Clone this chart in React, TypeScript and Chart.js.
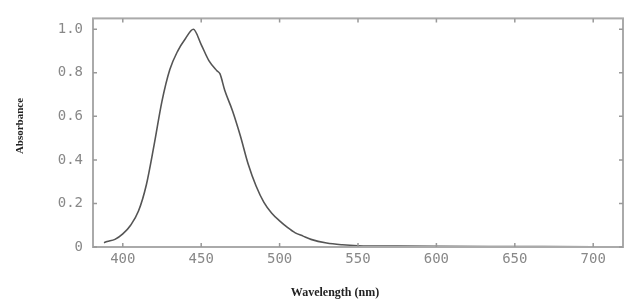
import React, { useEffect, useRef } from "react";
import { Chart, registerables } from "chart.js";

Chart.register(...registerables);

const wavelengths = [388, 390, 395, 400, 405, 410, 415, 420, 425, 430, 435, 440, 445, 450, 455, 460, 462, 465, 470, 475, 480, 485, 490, 495, 500, 505, 510, 515, 520, 530, 540, 550, 575, 600, 650, 700, 710];
const absorbance = [0.02, 0.025, 0.035, 0.06, 0.1, 0.165, 0.285, 0.47, 0.67, 0.815, 0.9, 0.958, 1.0, 0.93, 0.855, 0.81, 0.795, 0.72, 0.625, 0.51, 0.38, 0.28, 0.205, 0.155, 0.12, 0.09, 0.065, 0.05, 0.035, 0.018, 0.01, 0.006, 0.004, 0.003, 0.002, 0.001, 0.001];
const xTicks = [400, 450, 500, 550, 600, 650, 700];
const yTicks = [0, 0.2, 0.4, 0.6, 0.8, 1.0];
const xTitle = "Wavelength (nm)";
const yTitle = "Absorbance";

const framePlugin = {
  id: "frame",
  afterDraw(chart: any) {
    const { ctx, chartArea, scales } = chart;
    const { left, right, top, bottom } = chartArea;
    ctx.save();
    ctx.strokeStyle = "#aaaaaa";
    ctx.lineWidth = 2;
    ctx.strokeRect(left, top, right - left, bottom - top);
    ctx.lineWidth = 1.5;
    ctx.strokeStyle = "#999999";
    const tl = 4;
    xTicks.forEach((v) => {
      const x = scales.x.getPixelForValue(v);
      ctx.beginPath();
      ctx.moveTo(x, bottom);
      ctx.lineTo(x, bottom - tl);
      ctx.moveTo(x, top);
      ctx.lineTo(x, top + tl);
      ctx.stroke();
    });
    yTicks.forEach((v) => {
      const y = scales.y.getPixelForValue(v);
      ctx.beginPath();
      ctx.moveTo(left, y);
      ctx.lineTo(left + tl, y);
      ctx.moveTo(right, y);
      ctx.lineTo(right - tl, y);
      ctx.stroke();
    });
    ctx.fillStyle = "#222222";
    ctx.font = "bold 12px 'Liberation Serif'";
    ctx.textAlign = "center";
    ctx.textBaseline = "middle";
    ctx.fillText(xTitle, 335, 293);
    ctx.translate(20, 126);
    ctx.rotate(-Math.PI / 2);
    ctx.font = "bold 11px 'Liberation Serif'";
    ctx.fillText(yTitle, 0, 0);
    ctx.restore();
  },
};

export default function App() {
  const ref = useRef<HTMLCanvasElement>(null);
  useEffect(() => {
    document.body.style.margin = "0";
    const chart = new Chart(ref.current!, {
      type: "line",
      data: {
        datasets: [
          {
            data: wavelengths.map((w, i) => ({ x: w, y: absorbance[i] })),
            borderColor: "#555555",
            borderWidth: 1.6,
            pointRadius: 0,
            cubicInterpolationMode: "monotone",
            fill: false,
          },
        ],
      },
      options: {
        animation: false,
        responsive: true,
        maintainAspectRatio: false,
        layout: { padding: { top: 15, right: 4, left: 0, bottom: 0 } },
        plugins: { legend: { display: false }, tooltip: { enabled: false } },
        scales: {
          x: {
            type: "linear",
            min: 381,
            max: 719,
            afterBuildTicks: (s: any) => {
              s.ticks = xTicks.map((v) => ({ value: v }));
            },
            afterFit: (s: any) => {
              s.height = 53;
            },
            grid: { display: false, tickLength: 0 },
            border: { display: false },
            ticks: {
              color: "#888888",
              font: { family: "'DejaVu Sans Mono'", size: 14 },
              padding: 4,
              maxRotation: 0,
            },
          },
          y: {
            min: 0,
            max: 1.05,
            afterBuildTicks: (s: any) => {
              s.ticks = yTicks.map((v) => ({ value: v }));
            },
            afterFit: (s: any) => {
              s.width = 93;
            },
            grid: { display: false, tickLength: 0 },
            border: { display: false },
            ticks: {
              color: "#888888",
              font: { family: "'DejaVu Sans Mono'", size: 14 },
              padding: 10,
              callback: (v: any) => (v === 0 ? "0" : Number(v).toFixed(1)),
            },
          },
        },
      },
      plugins: [framePlugin],
    });
    return () => chart.destroy();
  }, []);
  return (
    <div style={{ width: 627, height: 300, position: "relative" }}>
      <canvas ref={ref} />
    </div>
  );
}
